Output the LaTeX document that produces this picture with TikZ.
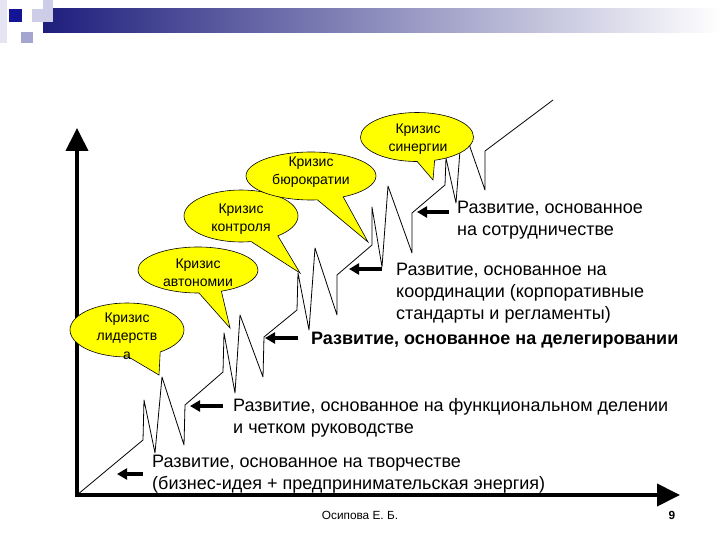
\documentclass[tikz,border=0pt]{standalone}
\usepackage{fontspec}
\setmainfont{Liberation Sans}
\usetikzlibrary{positioning,shapes.callouts,arrows.meta}

\definecolor{crisisyellow}{RGB}{255,255,0}
\definecolor{barnavy}{RGB}{30,30,125}
\definecolor{squarenavy}{RGB}{20,20,150}
\definecolor{squarelilac}{RGB}{165,165,210}
\definecolor{squarepale}{RGB}{205,205,232}
\definecolor{edgepale}{RGB}{228,228,242}

\newcommand{\GrowthFont}{\fontsize{18}{22}\selectfont}
\newcommand{\CrisisFont}{\fontsize{14}{18.5}\selectfont}
\newcommand{\FooterFont}{\fontsize{11.8}{13}\selectfont}

\tikzset{
	crisis/.style={ellipse callout, draw=black, line width=0.6pt, fill=crisisyellow, inner sep=0pt},
	crisislabel/.style={font=\CrisisFont, align=center, inner sep=0pt},
	growth/.style={font=\GrowthFont, align=left, anchor=west, inner sep=0pt},
	growtharrow/.style={line width=4.5pt, -{Triangle[length=10pt,width=11pt]}},
	axisline/.style={line width=4pt, {Triangle[length=23pt,width=22pt]}-{Triangle[length=23pt,width=22pt]}},
}

\begin{document}
\begin{tikzpicture}[x=1pt,y=-1pt]
	\path[fill=white] (0,0) rectangle (720,540);
	\useasboundingbox (0,0) rectangle (720,540);
	\fill[edgepale] (0,0) rectangle (7,43);
	\shade[left color=barnavy, right color=white] (43,9) rectangle (720,33);
	\fill[squarepale] (32,9) rectangle (53,22);
	\fill[squarepale] (43,0) rectangle (53,22);
	\fill[squarenavy] (9,9) rectangle (22,22);
	\fill[squarelilac] (21,32) rectangle (33,43);

	\coordinate (o) at (77,495);
	\coordinate (ytip) at (77,128);
	\coordinate (xtip) at (680,495);
	\draw[axisline] (ytip) -- (o) -- (xtip);

	\draw[line width=0.8pt, line join=round] (o)
		-- (143,440) -- (144,400) -- (155,453) -- (162,377) -- (184,445) -- (185,405)
		-- (223,372) -- (224,333) -- (235,393) -- (240,315) -- (263,377) -- (264,337)
		-- (297,310) -- (298,273) -- (309,330) -- (315,248) -- (337,315) -- (337,275)
		-- (372,245) -- (372,207) -- (382,267) -- (388,186) -- (412,253) -- (412,213)
		-- (445,185) -- (446,158) -- (456,203) -- (462,124) -- (485,190) -- (485,151)
		-- (553,100);

	\coordinate (t1) at (143,474); \coordinate (h1) at (117,474);
	\coordinate (t2) at (223,406); \coordinate (h2) at (190,406);
	\coordinate (t3) at (298,338); \coordinate (h3) at (265,338);
	\coordinate (t4) at (382,269); \coordinate (h4) at (349,269);
	\coordinate (t5) at (449,212); \coordinate (h5) at (417,212);
	\draw[growtharrow] (t1) -- (h1);
	\draw[growtharrow] (t2) -- (h2);
	\draw[growtharrow] (t3) -- (h3);
	\draw[growtharrow] (t4) -- (h4);
	\draw[growtharrow] (t5) -- (h5);

	\coordinate (p1) at (159,375);
	\coordinate (p2) at (230,328);
	\coordinate (p3) at (300,273);
	\coordinate (p4) at (368,242);
	\coordinate (p5) at (433,180);
	\node[crisis, minimum width=114pt, minimum height=54pt, callout pointer arc=34, callout absolute pointer={(p1)}] (leader) at (127,330) {};
	\node[crisis, minimum width=120pt, minimum height=46pt, callout pointer arc=22, callout absolute pointer={(p2)}] (autonomy) at (198,270) {};
	\node[crisis, minimum width=114pt, minimum height=52pt, callout pointer arc=30, callout absolute pointer={(p3)}] (control) at (241,216) {};
	\node[crisis, minimum width=130pt, minimum height=48pt, callout pointer arc=24, callout absolute pointer={(p4)}] (bureau) at (311,176) {};
	\node[crisis, minimum width=113pt, minimum height=49pt, callout pointer arc=18, callout absolute pointer={(p5)}] (synergy) at (417,137) {};

	\node[crisislabel] (leaderlabel) at (127,336) {Кризис\\лидерств\\а};
	\node[crisislabel] (autonomylabel) at (198,273) {Кризис\\автономии};
	\node[crisislabel] (controllabel) at (241,219) {Кризис\\контроля};
	\node[crisislabel] (bureaulabel) at (311,172) {Кризис\\бюрократии};
	\node[crisislabel] (synergylabel) at (418,139) {Кризис\\синергии};

	\node[growth] (creative) at (152,474) {Развитие, основанное на творчестве\\(бизнес-идея + предпринимательская энергия)};
	\node[growth] (directive) at (233,418) {Развитие, основанное на функциональном делении\\и четком руководстве};
	\node[growth, font=\GrowthFont\bfseries] (delegation) at (311,340) {Развитие, основанное на делегировании};
	\node[growth] (coordination) at (396,293) {Развитие, основанное на\\координации (корпоративные\\стандарты и регламенты)};
	\node[growth] (collaboration) at (457,220) {Развитие, основанное\\на сотрудничестве};

	\node[font=\FooterFont, inner sep=0pt] (author) at (360,515) {Осипова Е. Б.};
	\node[font=\FooterFont\bfseries, inner sep=0pt] (page) at (672,515) {9};
\end{tikzpicture}
\end{document}
